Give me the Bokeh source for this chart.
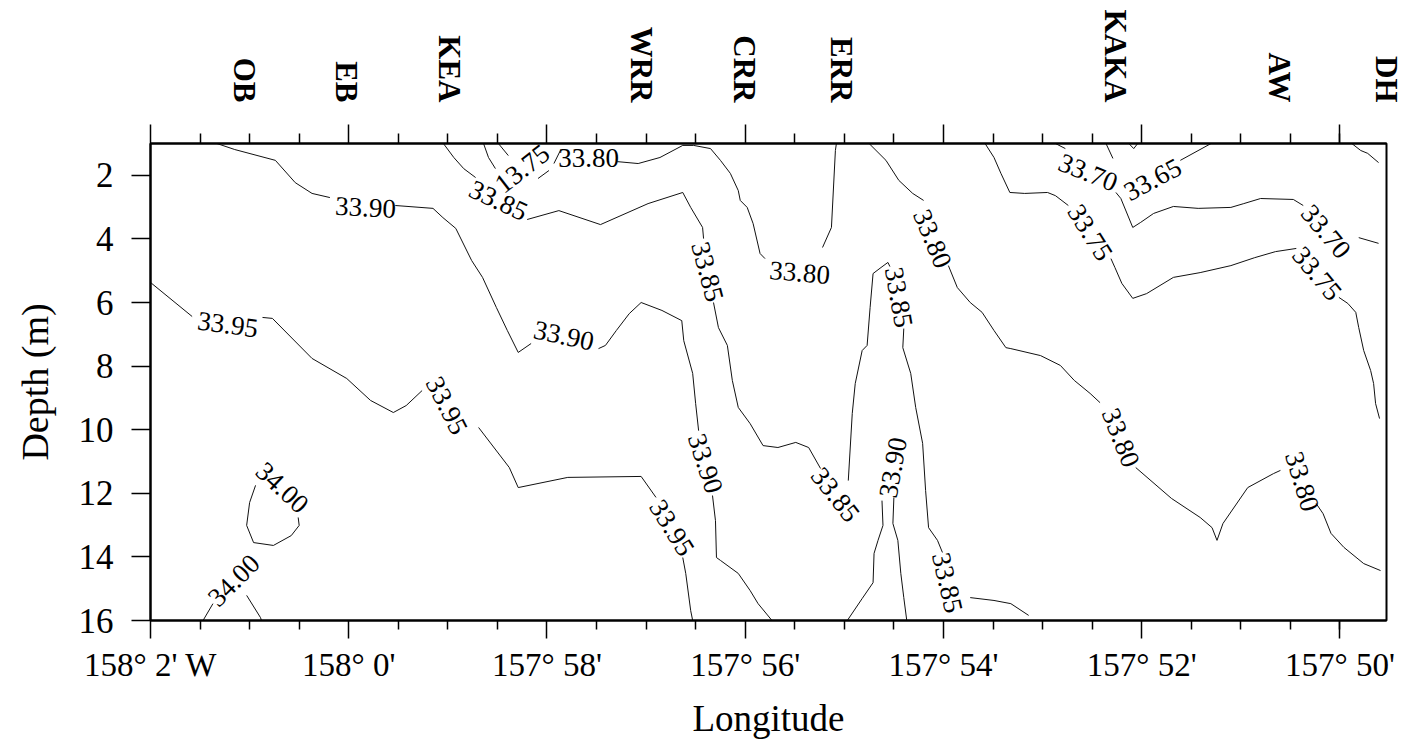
import math
from bokeh.plotting import figure
from bokeh.models import Range1d, LinearAxis, FixedTicker
from bokeh.core.properties import value
from bokeh.embed import file_html
from bokeh.resources import INLINE

# x = longitude offset in arc-minutes east of 158°00' W ; y = depth (m)
tick_lon = [-2, 0, 2, 4, 6, 8, 10]
tick_labels = ["158° 2' W", "158° 0'", "157° 58'", "157° 56'", "157° 54'", "157° 52'", "157° 50'"]
minor_lon = [-1.5, -1, -0.5, 0.5, 1, 1.5, 2.5, 3, 3.5, 4.5, 5, 5.5, 6.5, 7, 7.5,
             8.5, 9, 9.5, 10]
depth_ticks = [2, 4, 6, 8, 10, 12, 14, 16]

station_names = ["OB", "EB", "KEA", "WRR", "CRR", "ERR", "KAKA", "AW", "DH"]
station_lon = [-1.05, -0.02, 1.02, 2.95, 3.99, 4.97, 7.74, 9.39, 10.47]

# salinity isolines, one list of segments per level: (lon, depth)
iso_3400 = [
    [(-0.94, 11.75), (-1.00, 12.29), (-1.03, 13.01), (-0.96, 13.55), (-0.76, 13.64),
     (-0.58, 13.33), (-0.50, 13.01), (-0.51, 12.76)],
    [(-1.47, 16.0), (-1.37, 15.47)],
    [(-1.03, 15.21), (-0.89, 15.91), (-0.88, 16.0)],
]
iso_3395 = [
    [(-2.00, 5.37), (-1.58, 6.44)],
    [(-0.87, 6.47), (-0.77, 6.50), (-0.37, 7.76), (-0.02, 8.39), (0.22, 9.08),
     (0.45, 9.46), (0.58, 9.24), (0.74, 8.77)],
    [(1.31, 9.93), (1.62, 11.19), (1.71, 11.82), (2.21, 11.50), (2.95, 11.47), (3.10, 12.13)],
    [(3.37, 14.02), (3.40, 14.52), (3.45, 15.69), (3.47, 16.0)],
]
iso_3390 = [
    [(-1.33, 1.0), (-1.15, 1.19), (-0.74, 1.53), (-0.54, 2.23), (-0.37, 2.57), (-0.19, 2.70)],
    [(0.47, 2.95), (0.85, 3.04), (0.95, 3.33), (1.08, 3.67), (1.24, 4.68), (1.35, 5.21),
     (1.49, 6.16), (1.60, 6.88), (1.71, 7.57), (1.84, 7.29)],
    [(2.52, 7.45), (2.59, 7.35), (2.70, 6.88), (2.83, 6.35), (2.95, 6.00), (3.16, 6.25),
     (3.36, 6.57), (3.38, 7.20), (3.47, 8.23), (3.50, 9.18), (3.53, 10.03)],
    [(3.67, 12.07), (3.70, 12.86), (3.71, 14.02), (3.75, 14.11), (3.93, 14.52),
     (4.05, 15.06), (4.13, 15.47), (4.27, 16.0)],
    [(5.03, 16.0), (5.18, 15.31), (5.29, 14.81), (5.30, 13.89), (5.34, 13.48),
     (5.39, 13.01), (5.38, 12.23)],
    [(5.50, 12.13), (5.49, 12.95), (5.54, 13.48), (5.57, 14.52), (5.60, 15.28), (5.63, 16.0)],
]
iso_3385 = [
    [(0.955, 1.0), (1.06, 1.44), (1.16, 1.79), (1.28, 2.07)],
    [(1.80, 3.39), (2.12, 3.11), (2.54, 3.55), (3.02, 2.89), (3.37, 2.54), (3.45, 3.01),
     (3.57, 3.64), (3.58, 3.99)],
    [(3.68, 6.00), (3.73, 6.79), (3.82, 7.35), (3.87, 8.45), (3.93, 9.30), (4.05, 9.81),
     (4.18, 10.50), (4.33, 10.56), (4.51, 10.40), (4.64, 10.56), (4.76, 11.22)],
    [(5.04, 11.60), (5.08, 9.49), (5.11, 8.55), (5.18, 7.51), (5.23, 7.35), (5.26, 6.16),
     (5.29, 5.09), (5.37, 4.90), (5.44, 4.74), (5.46, 4.87)],
    [(5.60, 6.82), (5.59, 7.42), (5.67, 8.23), (5.72, 9.30), (5.79, 10.43), (5.82, 11.91),
     (5.85, 13.08), (5.94, 13.48), (5.99, 13.86)],
    [(6.27, 15.28), (6.51, 15.37), (6.68, 15.47), (6.86, 15.84)],
]
iso_3380 = [
    [(2.07, 1.63), (2.14, 1.19)],
    [(2.71, 1.57), (2.92, 1.63), (3.14, 1.44), (3.37, 1.06), (3.48, 1.06), (3.65, 1.16),
     (3.75, 1.53), (3.85, 1.94), (3.93, 2.48), (3.95, 2.79), (4.02, 3.01), (4.08, 3.52),
     (4.15, 4.46), (4.20, 4.62)],
    [(4.78, 4.27), (4.87, 3.64), (4.91, 1.22), (4.92, 1.0)],
    [(5.25, 1.0), (5.42, 1.53), (5.55, 2.16), (5.69, 2.57), (5.80, 2.79)],
    [(6.05, 4.84), (6.14, 5.53), (6.27, 6.00), (6.39, 6.31), (6.51, 6.88), (6.63, 7.42),
     (6.68, 7.45), (6.98, 7.67), (7.18, 7.98), (7.32, 8.45), (7.48, 8.86), (7.58, 9.15)],
    [(7.94, 11.19), (8.30, 12.16), (8.59, 12.76), (8.71, 13.08), (8.76, 13.48),
     (8.82, 12.95), (9.07, 11.82), (9.33, 11.38), (9.40, 11.28)],
    [(9.76, 12.32), (9.83, 12.64), (9.91, 13.26), (10.04, 13.70), (10.24, 14.21), (10.41, 14.43)],
]
iso_3375 = [
    [(1.36, 1.0), (1.41, 1.44), (1.48, 1.79)],
    [(1.51, 1.0), (1.61, 1.38)],
    [(1.91, 2.10), (2.02, 1.85)],
    [(6.42, 1.0), (6.51, 1.44), (6.58, 1.94), (6.67, 2.54), (6.82, 2.57), (7.05, 2.54),
     (7.13, 2.64), (7.26, 2.95)],
    [(7.69, 4.62), (7.73, 4.90), (7.80, 5.40), (7.91, 5.87), (8.05, 5.72), (8.32, 5.21),
     (8.59, 5.06), (8.90, 4.84), (9.14, 4.59), (9.35, 4.40), (9.56, 4.30)],
    [(9.99, 5.84), (10.08, 6.03), (10.16, 6.31), (10.19, 6.79), (10.24, 7.51), (10.31, 8.14),
     (10.34, 8.55), (10.36, 9.18), (10.40, 9.65)],
]
iso_3370 = [
    [(7.13, 1.0), (7.23, 1.16)],
    [(7.74, 2.54), (7.79, 2.73), (7.91, 3.64), (7.99, 3.48), (8.12, 3.20), (8.32, 2.98),
     (8.57, 3.04), (8.90, 3.01), (9.03, 2.89), (9.20, 2.73), (9.53, 2.76), (9.63, 2.95)],
    [(10.19, 3.96), (10.39, 4.14)],
    [(10.12, 1.0), (10.21, 1.22), (10.28, 1.31), (10.39, 1.60)],
]
iso_3365 = [
    [(7.64, 1.0), (7.71, 1.47)],
    [(8.39, 1.53), (8.70, 1.0)],
]
iso_3360 = [
    [(7.87, 1.0), (7.92, 1.16), (7.96, 1.0)],
]

label_text = ["34.00", "34.00",
              "33.95", "33.95", "33.95",
              "33.90", "33.90", "33.90", "33.90",
              "33.85", "33.85", "33.85", "33.85", "33.85",
              "33.80", "33.80", "33.80", "33.80", "33.80",
              "13.75", "33.75", "33.75",
              "33.70", "33.70", "33.65"]
label_lon = [-0.67, -1.16,
             -1.22, 0.99, 3.26,
             0.17, 2.17, 3.60, 5.49,
             1.51, 3.62, 4.91, 5.55, 6.04,
             2.42, 4.55, 5.89, 7.79, 9.62,
             1.75, 7.48, 9.77,
             7.46, 9.86, 8.11]
label_dep = [11.82, 14.74,
             6.69, 9.24, 13.08,
             3.01, 7.04, 11.06, 11.19,
             2.79, 5.03, 12.04, 5.84, 14.81,
             1.47, 5.06, 3.99, 10.25, 11.63,
             1.79, 3.80, 5.09,
             1.91, 3.77, 2.13]
label_angle = [-43, 45,
               -8, -63, -58,
               -3, -12, -72, 80,
               -25, -75, -52, -80, -77,
               0, -5, -67, -68, -73,
               38, -58, -50,
               -22, -50, 28]

SERIF = "Liberation Serif"

p = figure(width=1406, height=750,
           x_range=Range1d(-2, 10.47), y_range=Range1d(16, 1),
           output_backend="svg", toolbar_location=None,
           min_border_left=150, min_border_right=20,
           min_border_top=143, min_border_bottom=130)
p.grid.visible = False
p.outline_line_color = "black"
p.outline_line_width = 2
p.background_fill_color = "white"
p.border_fill_color = "white"

ticker = FixedTicker(ticks=tick_lon, minor_ticks=minor_lon)

xa = p.xaxis[0]
xa.ticker = ticker
xa.major_label_overrides = {t: s for t, s in zip(tick_lon, tick_labels)}
xa.axis_label = "Longitude"
xa.axis_label_text_font = SERIF
xa.axis_label_text_font_style = "normal"
xa.axis_label_text_font_size = "37px"
xa.axis_label_text_color = "black"
xa.axis_label_standoff = 12
xa.major_label_text_font = SERIF
xa.major_label_text_font_size = "33px"
xa.major_label_text_color = "black"
xa.major_label_standoff = 8
xa.major_tick_out = 18
xa.major_tick_in = 0
xa.minor_tick_out = 9
xa.minor_tick_in = 0
xa.axis_line_width = 2
xa.major_tick_line_width = 1.5
xa.minor_tick_line_width = 1.5

# tick marks along the surface (no labels)
top = LinearAxis(ticker=ticker)
top.major_label_overrides = {t: "" for t in tick_lon}
top.major_label_text_font_size = "1px"
top.major_label_standoff = 0
top.major_tick_out = 19
top.major_tick_in = 0
top.minor_tick_out = 10
top.minor_tick_in = 0
top.axis_line_width = 2
top.major_tick_line_width = 1.5
top.minor_tick_line_width = 1.5
p.add_layout(top, "above")

# station names above the surface ticks
stations = LinearAxis(ticker=FixedTicker(ticks=station_lon, minor_ticks=[]))
stations.major_label_overrides = {t: s for t, s in zip(station_lon, station_names)}
stations.major_label_orientation = -math.pi / 2
stations.major_label_standoff = 16
stations.major_label_text_font = SERIF
stations.major_label_text_font_style = "bold"
stations.major_label_text_font_size = "31px"
stations.major_label_text_color = "black"
stations.major_tick_line_color = None
stations.minor_tick_line_color = None
stations.axis_line_color = None
p.add_layout(stations, "above")

ya = p.yaxis[0]
ya.ticker = FixedTicker(ticks=depth_ticks)
ya.axis_label = "Depth (m)"
ya.axis_label_text_font = SERIF
ya.axis_label_text_font_style = "normal"
ya.axis_label_text_font_size = "38px"
ya.axis_label_text_color = "black"
ya.axis_label_standoff = 20
ya.major_label_text_font = SERIF
ya.major_label_text_font_size = "35px"
ya.major_label_text_color = "black"
ya.major_label_standoff = 18
ya.major_tick_out = 19
ya.major_tick_in = 0
ya.minor_tick_line_color = None
ya.axis_line_width = 2
ya.major_tick_line_width = 1.5

# isolines
xs, ys = [], []
for level in (iso_3400, iso_3395, iso_3390, iso_3385, iso_3380,
              iso_3375, iso_3370, iso_3365, iso_3360):
    for seg in level:
        xs.append([pt[0] for pt in seg])
        ys.append([pt[1] for pt in seg])
p.multi_line(xs, ys, line_color="#111111", line_width=1)

# isoline labels
p.text(x=label_lon, y=label_dep, text=label_text, angle=label_angle, angle_units="deg",
       text_align="center", text_baseline="middle",
       text_font=value(SERIF), text_font_size="27px", text_color="black")

open("out.html", "w").write(file_html(p, INLINE))
